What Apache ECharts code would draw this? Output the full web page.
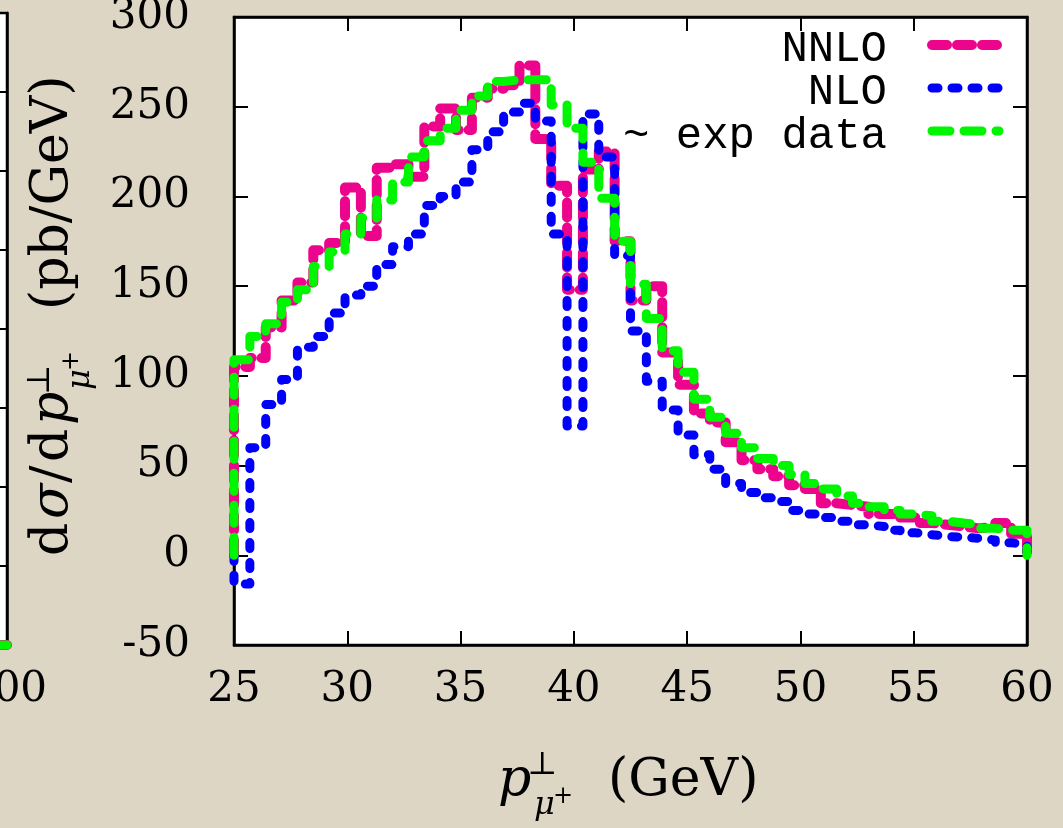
<!DOCTYPE html>
<html>
<head>
<meta charset="utf-8">
<script src="https://cdn.jsdelivr.net/npm/echarts@6/dist/echarts.min.js"></script>
<style>
html,body{margin:0;padding:0;background:#DDD6C5;}
#c{width:1063px;height:828px;}
</style>
</head>
<body>
<div id="c"></div>
<script>
// ---- data ----
const binEdges = [25,25.7,26.4,27.1,27.8,28.5,29.2,29.9,30.6,31.3,32,32.7,33.4,34.1,34.8,35.5,36.2,36.9,37.6,38.3,39,39.7,40.4,41.1,41.8,42.5,43.2,43.9,44.6,45.3,46,46.7,47.4,48.1,48.8,49.5,50.2,50.9,51.6,52.3,53,53.7,54.4,55.1,55.8,56.5,57.2,57.9,58.6,59.3,60];
const nnlo = [105,110,127,142,152,170,174,205,178,216, 218,211,239,249,237,255,260,262,273,232, 206,148,215,225,175,142,150,113,95,79, 74,63,53,48,44,39,37,29,28,27, 23,23,21,18,17,16,15,16,18,12];
const nlo = [-16,60,84,98,116,122,135,145,150,162, 172,179,195,200,208,226,236,247,252,242, 179,72,246,222,167,125,97,81,67,56, 48,40,35,32,30,25,23,21,19,17, 16,14,12.5,11.5,10.5,10,9.5,8.5,7,6];
const expData = [109,122,129,141,148,161,169,179,188,198, 208,222,231,238,248,256,264,265,265,265, 251,238,219,199,175,151,132,114,102,87, 77,68,60,54,50,45,40,37,33,29, 27,25,23,22,19,18,17,15,14,14];
const seriesNames = ['NNLO', 'NLO', '~ exp data'];
const xTickLabels = [25,30,35,40,45,50,55,60];
const yTickLabels = [-50,0,50,100,150,200,250,300];
// neighbouring panel (only its right edge is visible)
const leftPanelX = [96, 100];
const leftPanelNNLO = [0, 0];
const leftPanelExp = [0, 0];

// ---- styles ----
const C_NNLO = '#EC058C', C_NLO = '#0000FA', C_EXP = '#00F500';
const ST = {
  nnlo: {color: C_NNLO, width: 10, type: [15, 10], cap: 'round', join: 'round'},
  nlo:  {color: C_NLO,  width: 9,  type: [6, 14],  cap: 'round', join: 'round'},
  exp:  {color: C_EXP,  width: 9,  type: [18, 14], cap: 'round', join: 'round'}
};
const SERIF = '"DejaVu Serif", "DejaVu Sans", serif';

function stepData(vals) {
  const d = [[binEdges[0], 0]];
  vals.forEach((v, i) => d.push([binEdges[i], v]));
  d.push([binEdges[binEdges.length - 1], 0]);
  return d;
}
function lineSeries(name, data, st, xi, yi) {
  return {
    type: 'line', name: name, data: data, step: 'end', symbol: 'none',
    xAxisIndex: xi, yAxisIndex: yi, clip: false, silent: true,
    lineStyle: {color: st.color, width: st.width, type: st.type, cap: st.cap, join: st.join},
    emphasis: {disabled: true}
  };
}
const tickStyle = {show: true, inside: true, length: 14, lineStyle: {color: '#000', width: 2}};
const axLine = {show: true, onZero: false, lineStyle: {color: '#000', width: 2.5}};
const lblStyle = {fontFamily: SERIF, fontSize: 42, color: '#000'};

function txt(text, x, y, size, opts) {
  opts = opts || {};
  return {
    type: 'text', x: x, y: y, silent: true,
    style: {
      text: text, fill: '#000',
      font: (opts.italic ? 'italic ' : '') + size + 'px ' + (opts.family || SERIF),
      textAlign: opts.align || 'left', align: opts.align || 'left',
      textVerticalAlign: 'middle', verticalAlign: 'middle'
    }
  };
}
function legendLine(y, st) {
  return {
    type: 'line', silent: true,
    shape: {x1: 932, y1: y, x2: 999, y2: y},
    style: {stroke: st.color, lineWidth: st.width, lineDash: st.type, lineCap: 'round'}
  };
}

const chart = echarts.init(document.getElementById('c'), null, {renderer: 'canvas'});
chart.setOption({
  backgroundColor: '#DDD6C5',
  animation: false,
  grid: [
    {left: 234, top: 17, width: 793, height: 628, show: true, backgroundColor: '#fff', borderColor: '#000', borderWidth: 2.5, outerBoundsMode: 'none', containLabel: false},
    {left: -193, top: 13, width: 200, height: 632, show: true, backgroundColor: '#fff', borderColor: '#000', borderWidth: 2.5, outerBoundsMode: 'none', containLabel: false}
  ],
  xAxis: [
    {type: 'value', gridIndex: 0, min: 25, max: 60, interval: 5, position: 'bottom',
     axisLine: axLine, axisTick: tickStyle, splitLine: {show: false},
     axisLabel: Object.assign({margin: 24, formatter: v => xTickLabels.includes(v) ? String(v) : ''}, lblStyle)},
    {type: 'value', gridIndex: 0, min: 25, max: 60, interval: 5, position: 'top',
     axisLine: axLine, axisTick: tickStyle, splitLine: {show: false}, axisLabel: {show: false}},
    {type: 'value', gridIndex: 1, min: 0, max: 100, interval: 50, position: 'bottom',
     axisLine: axLine, axisTick: tickStyle, splitLine: {show: false},
     axisLabel: Object.assign({margin: 24}, lblStyle)}
  ],
  yAxis: [
    {type: 'value', gridIndex: 0, min: -50, max: 300, interval: 50, position: 'left',
     axisLine: axLine, axisTick: tickStyle, splitLine: {show: false},
     axisLabel: Object.assign({margin: 44, formatter: v => yTickLabels.includes(v) ? String(v) : ''}, lblStyle)},
    {type: 'value', gridIndex: 0, min: -50, max: 300, interval: 50, position: 'right',
     axisLine: axLine, axisTick: tickStyle, splitLine: {show: false}, axisLabel: {show: false}},
    {type: 'value', gridIndex: 1, min: 0, max: 8, interval: 1, position: 'right',
     axisLine: axLine, axisTick: tickStyle, splitLine: {show: false}, axisLabel: {show: false}}
  ],
  series: [
    lineSeries(seriesNames[0], stepData(nnlo), ST.nnlo, 0, 0),
    lineSeries(seriesNames[1], stepData(nlo), ST.nlo, 0, 0),
    lineSeries(seriesNames[2], stepData(expData), ST.exp, 0, 0),
    Object.assign(lineSeries('NNLO (left panel)', leftPanelX.map((x, i) => [x, leftPanelNNLO[i]]), ST.nnlo, 2, 2), {step: false}),
    Object.assign(lineSeries('exp (left panel)', leftPanelX.map((x, i) => [x, leftPanelExp[i]]), ST.exp, 2, 2), {step: false})
  ],
  graphic: [
    // legend
    txt('NNLO', 887, 49, 44, {family: '"Liberation Mono", monospace', align: 'right'}),
    txt('NLO', 887, 92, 44, {family: '"Liberation Mono", monospace', align: 'right'}),
    txt('~ exp data', 887, 136, 44, {family: '"Liberation Mono", monospace', align: 'right'}),
    legendLine(45, ST.nnlo),
    legendLine(88, ST.nlo),
    legendLine(131, ST.exp),
    // x axis title
    txt('p', 498, 781, 52, {italic: true}),
    txt('\u22A5', 527, 766, 32),
    txt('\u03BC', 534, 806, 32, {italic: true}),
    txt('+', 553, 797, 24),
    txt('(GeV)', 608, 781, 52),
    // y axis title (rotated, reads bottom to top)
    {
      type: 'group', x: 70, y: 556, rotation: Math.PI / 2, silent: true,
      children: [
        txt('d', 0, -17, 52),
        txt('\u03C3', 37, -17, 52, {italic: true}),
        txt('/', 73, -17, 52),
        txt('d', 94, -17, 52),
        txt('p', 131, -17, 52, {italic: true}),
        txt('\u22A5', 161, -29, 32),
        txt('\u03BC', 166, 11, 32, {italic: true}),
        txt('+', 185, 2, 24),
        txt('(pb/GeV)', 246, -17, 52)
      ]
    }
  ]
});
</script>
</body>
</html>
